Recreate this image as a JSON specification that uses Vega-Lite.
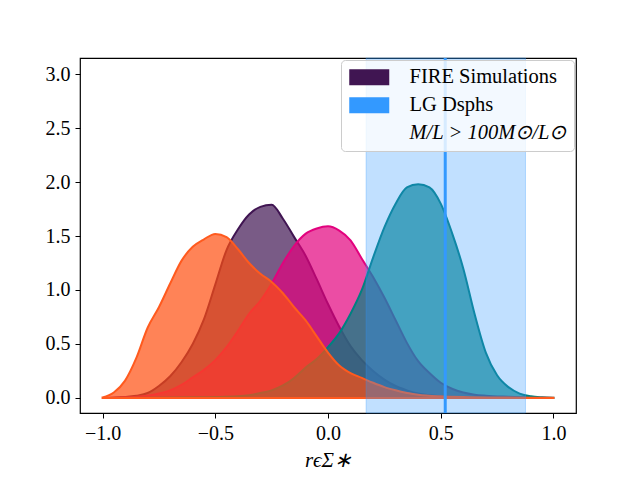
{
  "$schema": "https://vega.github.io/schema/vega-lite/v6.json",
  "width": 496,
  "height": 355,
  "autosize": "none",
  "padding": {"left": 80, "top": 58, "right": 64, "bottom": 67},
  "background": "white",
  "config": {
    "view": {"stroke": "#000000", "strokeWidth": 1.2},
    "font": "Liberation Serif",
    "axis": {
      "domain": false, "grid": false, "tickColor": "#000", "tickSize": 5, "tickWidth": 1,
      "labelFont": "Liberation Serif", "labelFontSize": 20, "labelColor": "#000",
      "titleFont": "Liberation Serif", "titleFontSize": 21, "titleFontWeight": "normal", "titleColor": "#000"
    },
    "legend": {
      "labelFont": "Liberation Serif", "labelFontSize": 20.5, "labelColor": "#000"
    }
  },
  "datasets": {
    "curves": [
      {"s":"p","x":-1.0,"y":0.0},{"s":"p","x":-0.95,"y":0.002},{"s":"p","x":-0.9,"y":0.008},{"s":"p","x":-0.85,"y":0.02},{"s":"p","x":-0.8,"y":0.045},{"s":"p","x":-0.75,"y":0.11},{"s":"p","x":-0.7,"y":0.2},{"s":"p","x":-0.65,"y":0.33},{"s":"p","x":-0.6,"y":0.5},{"s":"p","x":-0.55,"y":0.73},{"s":"p","x":-0.5,"y":1.05},{"s":"p","x":-0.45,"y":1.37},{"s":"p","x":-0.4,"y":1.56},{"s":"p","x":-0.35,"y":1.7},{"s":"p","x":-0.3,"y":1.77},{"s":"p","x":-0.25,"y":1.79},{"s":"p","x":-0.2,"y":1.66},{"s":"p","x":-0.15,"y":1.49},{"s":"p","x":-0.1,"y":1.32},{"s":"p","x":-0.05,"y":1.1},{"s":"p","x":0.0,"y":0.87},{"s":"p","x":0.05,"y":0.66},{"s":"p","x":0.1,"y":0.48},{"s":"p","x":0.15,"y":0.35},{"s":"p","x":0.2,"y":0.25},{"s":"p","x":0.25,"y":0.17},{"s":"p","x":0.3,"y":0.11},{"s":"p","x":0.35,"y":0.07},{"s":"p","x":0.4,"y":0.04},{"s":"p","x":0.45,"y":0.025},{"s":"p","x":0.5,"y":0.015},{"s":"p","x":0.6,"y":0.006},{"s":"p","x":0.7,"y":0.002},{"s":"p","x":0.8,"y":0.0},{"s":"p","x":1.0,"y":0.0},
      {"s":"m","x":-1.0,"y":0.0},{"s":"m","x":-0.9,"y":0.005},{"s":"m","x":-0.8,"y":0.02},{"s":"m","x":-0.75,"y":0.04},{"s":"m","x":-0.7,"y":0.07},{"s":"m","x":-0.65,"y":0.12},{"s":"m","x":-0.6,"y":0.19},{"s":"m","x":-0.55,"y":0.26},{"s":"m","x":-0.5,"y":0.35},{"s":"m","x":-0.45,"y":0.47},{"s":"m","x":-0.4,"y":0.62},{"s":"m","x":-0.35,"y":0.78},{"s":"m","x":-0.3,"y":0.9},{"s":"m","x":-0.25,"y":1.06},{"s":"m","x":-0.2,"y":1.25},{"s":"m","x":-0.15,"y":1.41},{"s":"m","x":-0.1,"y":1.52},{"s":"m","x":-0.05,"y":1.57},{"s":"m","x":0.0,"y":1.59},{"s":"m","x":0.05,"y":1.55},{"s":"m","x":0.1,"y":1.46},{"s":"m","x":0.15,"y":1.29},{"s":"m","x":0.2,"y":1.12},{"s":"m","x":0.25,"y":0.93},{"s":"m","x":0.3,"y":0.72},{"s":"m","x":0.35,"y":0.51},{"s":"m","x":0.4,"y":0.34},{"s":"m","x":0.45,"y":0.23},{"s":"m","x":0.5,"y":0.14},{"s":"m","x":0.55,"y":0.085},{"s":"m","x":0.6,"y":0.05},{"s":"m","x":0.65,"y":0.03},{"s":"m","x":0.7,"y":0.02},{"s":"m","x":0.8,"y":0.01},{"s":"m","x":0.9,"y":0.003},{"s":"m","x":1.0,"y":0.0},
      {"s":"t","x":-1.0,"y":0.0},{"s":"t","x":-0.8,"y":0.002},{"s":"t","x":-0.6,"y":0.005},{"s":"t","x":-0.5,"y":0.008},{"s":"t","x":-0.4,"y":0.015},{"s":"t","x":-0.35,"y":0.025},{"s":"t","x":-0.3,"y":0.045},{"s":"t","x":-0.25,"y":0.07},{"s":"t","x":-0.2,"y":0.115},{"s":"t","x":-0.15,"y":0.185},{"s":"t","x":-0.1,"y":0.28},{"s":"t","x":-0.05,"y":0.36},{"s":"t","x":0.0,"y":0.47},{"s":"t","x":0.05,"y":0.6},{"s":"t","x":0.1,"y":0.78},{"s":"t","x":0.15,"y":1.0},{"s":"t","x":0.2,"y":1.3},{"s":"t","x":0.25,"y":1.58},{"s":"t","x":0.3,"y":1.8},{"s":"t","x":0.35,"y":1.95},{"s":"t","x":0.4,"y":1.98},{"s":"t","x":0.45,"y":1.95},{"s":"t","x":0.5,"y":1.8},{"s":"t","x":0.55,"y":1.53},{"s":"t","x":0.6,"y":1.2},{"s":"t","x":0.65,"y":0.78},{"s":"t","x":0.7,"y":0.42},{"s":"t","x":0.75,"y":0.21},{"s":"t","x":0.8,"y":0.1},{"s":"t","x":0.85,"y":0.04},{"s":"t","x":0.9,"y":0.015},{"s":"t","x":0.95,"y":0.006},{"s":"t","x":1.0,"y":0.002},
      {"s":"o","x":-1.0,"y":0.005},{"s":"o","x":-0.95,"y":0.05},{"s":"o","x":-0.9,"y":0.16},{"s":"o","x":-0.85,"y":0.37},{"s":"o","x":-0.8,"y":0.65},{"s":"o","x":-0.75,"y":0.84},{"s":"o","x":-0.7,"y":1.06},{"s":"o","x":-0.65,"y":1.27},{"s":"o","x":-0.6,"y":1.4},{"s":"o","x":-0.55,"y":1.47},{"s":"o","x":-0.5,"y":1.52},{"s":"o","x":-0.45,"y":1.49},{"s":"o","x":-0.4,"y":1.38},{"s":"o","x":-0.35,"y":1.25},{"s":"o","x":-0.3,"y":1.15},{"s":"o","x":-0.25,"y":1.075},{"s":"o","x":-0.2,"y":0.97},{"s":"o","x":-0.15,"y":0.84},{"s":"o","x":-0.1,"y":0.72},{"s":"o","x":-0.05,"y":0.57},{"s":"o","x":0.0,"y":0.42},{"s":"o","x":0.05,"y":0.3},{"s":"o","x":0.1,"y":0.23},{"s":"o","x":0.15,"y":0.185},{"s":"o","x":0.2,"y":0.14},{"s":"o","x":0.25,"y":0.1},{"s":"o","x":0.3,"y":0.07},{"s":"o","x":0.35,"y":0.045},{"s":"o","x":0.4,"y":0.03},{"s":"o","x":0.5,"y":0.015},{"s":"o","x":0.6,"y":0.008},{"s":"o","x":0.8,"y":0.003},{"s":"o","x":1.0,"y":0.001}
    ]
  },
  "layer": [
    {
      "data": {"name": "curves"},
      "transform": [{"filter": "datum.s == 'p'"}],
      "mark": {"type": "area", "interpolate": "monotone", "fill": "#401552", "fillOpacity": 0.7, "stroke": "#401552", "strokeWidth": 2},
      "encoding": {
        "x": {"field": "x", "type": "quantitative",
              "scale": {"domain": [-1.1, 1.1], "nice": false, "zero": false},
              "axis": {"values": [-1, -0.5, 0, 0.5, 1], "labelExpr": "replace(format(datum.value, '.1f'), '-', '−')", "labelPadding": 5, "titlePadding": 6, "title": "rϵΣ∗", "titleFontStyle": "italic"}},
        "y": {"field": "y", "type": "quantitative",
              "scale": {"domain": [-0.14, 3.15], "nice": false, "zero": false},
              "axis": {"values": [0, 0.5, 1, 1.5, 2, 2.5, 3], "format": ".1f", "labelPadding": 5, "title": null}},
        "y2": {"datum": 0}
      }
    },
    {
      "data": {"name": "curves"},
      "transform": [{"filter": "datum.s == 'm'"}],
      "mark": {"type": "area", "interpolate": "monotone", "fill": "#e2027e", "fillOpacity": 0.7, "stroke": "#e2027e", "strokeWidth": 2},
      "encoding": {"x": {"field": "x", "type": "quantitative"}, "y": {"field": "y", "type": "quantitative"}, "y2": {"datum": 0}}
    },
    {
      "data": {"name": "curves"},
      "transform": [{"filter": "datum.s == 't'"}],
      "mark": {"type": "area", "interpolate": "monotone", "fill": "#008080", "fillOpacity": 0.7, "stroke": "#008080", "strokeWidth": 2},
      "encoding": {"x": {"field": "x", "type": "quantitative"}, "y": {"field": "y", "type": "quantitative"}, "y2": {"datum": 0}}
    },
    {
      "data": {"name": "curves"},
      "transform": [{"filter": "datum.s == 'o'"}],
      "mark": {"type": "area", "interpolate": "monotone", "fill": "#ff4e10", "fillOpacity": 0.7, "stroke": "#ff5a1e", "strokeWidth": 2},
      "encoding": {"x": {"field": "x", "type": "quantitative"}, "y": {"field": "y", "type": "quantitative"}, "y2": {"datum": 0}}
    },
    {
      "data": {"values": [{"lo": 0.169, "hi": 0.876, "label": "LG Dsphs"}]},
      "mark": {"type": "rect", "fillOpacity": 0.3, "stroke": "#3399ff", "strokeOpacity": 0.3, "strokeWidth": 1},
      "encoding": {
        "x": {"field": "lo", "type": "quantitative"},
        "x2": {"field": "hi"},
        "fill": {"field": "label", "type": "nominal",
                 "scale": {"domain": ["FIRE Simulations", "LG Dsphs", "M/L > 100M⊙/L⊙"], "range": ["#401552", "#3399ff", "transparent"]},
                 "legend": {"title": null, "orient": "top-right", "offset": 2, "padding": 7,
                            "fillColor": "rgba(255,255,255,0.8)", "strokeColor": "#cccccc", "cornerRadius": 4,
                            "symbolType": "M-2,-0.8L2,-0.8L2,0.8L-2,0.8Z", "symbolSize": 400, "symbolOffset": 11,
                            "symbolStrokeWidth": 0, "symbolOpacity": 1, "labelOffset": 30, "rowPadding": 7,
                            "labelFontStyle": {"expr": "indexof(datum.label, 'M/L') >= 0 ? 'italic' : 'normal'"}}}
      }
    },
    {
      "data": {"values": [{"v": 0.52}]},
      "mark": {"type": "rule", "color": "#3399ff", "strokeWidth": 3},
      "encoding": {"x": {"field": "v", "type": "quantitative"}}
    }
  ],
  "resolve": {"scale": {"fill": "independent"}}
}
